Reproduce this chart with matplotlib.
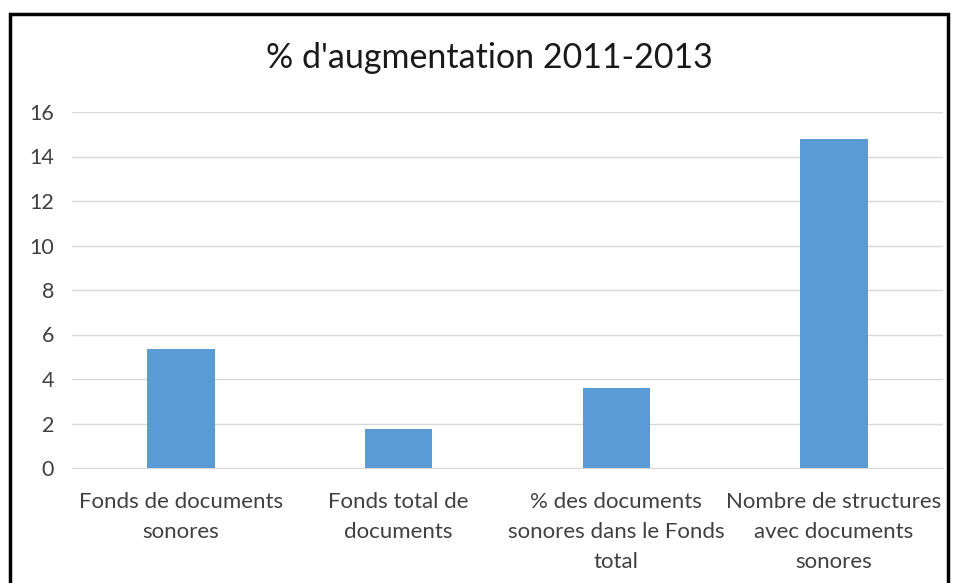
import numpy as np
import matplotlib.pyplot as plt
from matplotlib.patches import Rectangle

# --- Data ---
categories = [
    "Fonds de documents\nsonores",
    "Fonds total de\ndocuments",
    "% des documents\nsonores dans le Fonds\ntotal",
    "Nombre de structures\navec documents\nsonores",
]
values = [5.35, 1.75, 3.6, 14.8]
y_ticks = [0, 2, 4, 6, 8, 10, 12, 14, 16]

plt.rcParams["font.family"] = ["Lato", "DejaVu Sans"]

fig = plt.figure(figsize=(9.57, 5.83), dpi=100)
ax = fig.add_axes([72 / 957, 1 - 468 / 583, (943 - 72) / 957, (468 - 112) / 583])

x = np.arange(len(categories))
ax.bar(x, values, width=0.31, color="#5b9bd5", zorder=3)

ax.set_xlim(-0.5, len(categories) - 0.5)
ax.set_ylim(0, 16)
ax.set_yticks(y_ticks)
ax.set_xticks(x)
ax.set_xticklabels(categories, fontsize=16, color="#404040", linespacing=1.65)
ax.tick_params(axis="y", labelsize=15.5, labelcolor="#404040", length=0, pad=13)
ax.tick_params(axis="x", length=0, pad=17)

ax.grid(axis="y", color="#d9d9d9", linewidth=1, zorder=0)
for s in ["top", "right", "left"]:
    ax.spines[s].set_visible(False)
ax.spines["bottom"].set_color("#d9d9d9")

fig.text(489 / 957, 1 - 58 / 583, "% d'augmentation 2011-2013",
         ha="center", va="center", fontsize=24.5, color="#1a1a1a")

# outer chart border (bottom edge cut off in the original)
fig.patches.append(Rectangle((10 / 957, -0.05), (948 - 10) / 957, 1.05 - 14 / 583,
                             transform=fig.transFigure, fill=False,
                             edgecolor="black", linewidth=2.5))

plt.savefig("out.png", dpi=100)
